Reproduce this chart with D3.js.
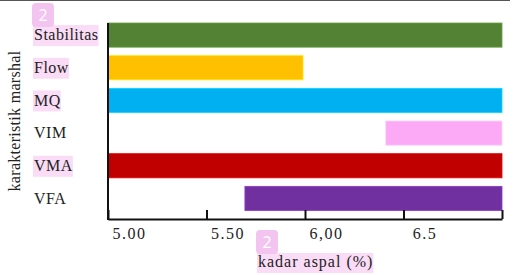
<!DOCTYPE html>
<html>
<head>
<meta charset="utf-8">
<script src="https://cdn.jsdelivr.net/npm/d3@7"></script>
<style>
  body { margin: 0; background: #fff; }
  svg text { font-family: "Liberation Serif", "DejaVu Serif", serif; fill: #222; }
</style>
</head>
<body>
<svg id="chart" width="516" height="275"></svg>
<script>
// data: each bar is a [start, end] range on the kadar aspal axis
var categories = ["Stabilitas", "Flow", "MQ", "VIM", "VMA", "VFA"];
var barStart = [5.00, 5.00, 5.00, 6.41, 5.00, 5.695];
var barEnd = [7.00, 5.99, 7.00, 7.00, 7.00, 7.00];
var barColors = ["#548235", "#ffc000", "#00b0f0", "#fca9f6", "#c00000", "#7030a0"];
var highlighted = ["Stabilitas", "Flow", "MQ", "VMA"];
var tickValues = [5.0, 5.5, 6.0, 6.5, 7.0];
var tickLabels = ["5.00", "5.50", "6,00", "6.5", "7"];

var svg = d3.select("#chart");

var margin = {left: 108, top: 23, right: 14, bottom: 56};
var width = 516, height = 275;

var x = d3.scaleLinear()
  .domain([5, 7])
  .range([margin.left, width - margin.right]);

var y = d3.scaleBand()
  .domain(categories)
  .range([margin.top, height - margin.bottom])
  .paddingInner(0.26)
  .paddingOuter(0.13)
  .align(0);

// leftover rule of the figure above (scan edge)
svg.append("line")
  .attr("x1", 0).attr("x2", 510)
  .attr("y1", 0.5).attr("y2", 0.5)
  .style("stroke", "#555")
  .style("stroke-width", 1.2);

// bars
svg.selectAll("rect.bar")
  .data(categories)
  .enter()
  .append("rect")
  .attr("class", "bar")
  .attr("x", function(d, i) { return x(barStart[i]); })
  .attr("y", function(d) { return y(d); })
  .attr("width", function(d, i) { return x(barEnd[i]) - x(barStart[i]); })
  .attr("height", y.bandwidth())
  .style("fill", function(d, i) { return barColors[i]; })
  .style("stroke", function(d, i) { return d3.color(barColors[i]).brighter(0.6); })
  .style("stroke-width", 0.8);

// x axis with inward ticks
var xAxis = d3.axisBottom(x)
  .tickValues(tickValues)
  .tickFormat(function(d, i) { return tickLabels[i]; })
  .tickSizeInner(-9)
  .tickSizeOuter(0);

var gx = svg.append("g")
  .attr("transform", "translate(0," + (height - margin.bottom) + ")")
  .call(xAxis);
gx.select(".domain").style("stroke", "#111").style("stroke-width", 2);
gx.selectAll(".tick line").style("stroke", "#111").style("stroke-width", 2);
gx.selectAll(".tick text")
  .attr("x", 21)
  .attr("y", 9)
  .style("font-size", "16px")
  .style("letter-spacing", "1.5px")
  .style("font-family", "Liberation Serif, serif")
  .style("fill", "#222");

// y axis: plain line, labels placed on the left
svg.append("line")
  .attr("x1", margin.left).attr("x2", margin.left)
  .attr("y1", margin.top).attr("y2", height - margin.bottom + 1)
  .style("stroke", "#111")
  .style("stroke-width", 2);

var labels = svg.selectAll("g.cat")
  .data(categories)
  .enter()
  .append("g")
  .attr("class", "cat")
  .attr("transform", function(d) { return "translate(34," + (y(d) + y.bandwidth() / 2) + ")"; });

labels.append("text")
  .text(function(d) { return d; })
  .attr("dy", "0.33em")
  .style("font-size", "16px")
  .style("letter-spacing", "0.5px");

labels.each(function(d) {
  if (highlighted.indexOf(d) < 0) return;
  var g = d3.select(this);
  var bb = g.select("text").node().getBBox();
  g.insert("rect", "text")
    .attr("x", bb.x - 1)
    .attr("y", -10)
    .attr("width", bb.width + 1)
    .attr("height", 21)
    .style("fill", "#fadcf6");
});

// axis titles
svg.append("text")
  .attr("transform", "translate(20,121) rotate(-90)")
  .attr("text-anchor", "middle")
  .style("font-size", "16px")
  .style("letter-spacing", "0.3px")
  .text("karakteristik marshal");

var xt = svg.append("g").attr("transform", "translate(258,267)");
var xtText = xt.append("text")
  .text("kadar aspal (%)")
  .style("font-size", "16px")
  .style("letter-spacing", "1px");
var xb = xtText.node().getBBox();
xt.insert("rect", "text")
  .attr("x", -1).attr("y", -14)
  .attr("width", xb.width + 1).attr("height", 20)
  .style("fill", "#fadcf6");

// annotation badges
function badge(cx, cy) {
  var g = svg.append("g").attr("transform", "translate(" + cx + "," + cy + ")");
  g.append("rect")
    .attr("x", -11).attr("y", -12)
    .attr("width", 22).attr("height", 24)
    .attr("rx", 4)
    .style("fill", "#f4c4f0");
  g.append("text")
    .attr("text-anchor", "middle")
    .attr("dy", "0.36em")
    .style("font-family", "Open Sans, sans-serif")
    .style("font-size", "16px")
    .style("fill", "#fff")
    .text("2");
}
badge(43, 15);
badge(267, 242);
</script>
</body>
</html>
